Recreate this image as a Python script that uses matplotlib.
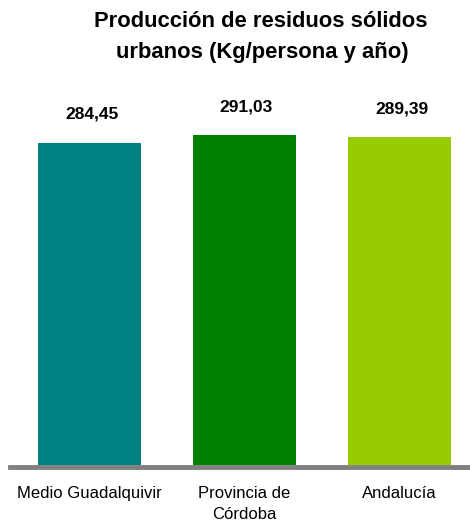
import matplotlib
matplotlib.use("Agg")
import matplotlib.pyplot as plt

categorias = ["Medio Guadalquivir", "Provincia de\nCórdoba", "Andalucía"]
valores = [284.45, 291.03, 289.39]
etiquetas = ["284,45", "291,03", "289,39"]
colores = ["#008080", "#008000", "#99CC00"]

plt.rcParams["font.family"] = ["Liberation Sans", "DejaVu Sans"]

fig = plt.figure(figsize=(4.7, 5.24), dpi=100)
ax = fig.add_axes([10 / 470, 59 / 524, 460 / 470, 405 / 524])

x = list(range(len(valores)))
bars = ax.bar(x, valores, width=0.67, color=colores, zorder=3)

for b, t in zip(bars, etiquetas):
    ax.annotate(t, (b.get_x() + b.get_width() / 2, b.get_height()),
                xytext=(2, 24), textcoords="offset pixels",
                ha="center", va="baseline", fontsize=12.5, fontweight="bold")

# category labels drawn as text so the line spacing sticks
for xi, c in zip(x, categorias):
    ax.annotate(c, (xi, 0), xycoords=ax.get_xaxis_transform(),
                xytext=(0, -21), textcoords="offset pixels",
                ha="center", va="top", fontsize=12, linespacing=1.5)

ax.set_xlim(-0.513, 2.455)
ax.set_ylim(0, 357.4)
ax.set_xticks([])
ax.set_yticks([])
for s in ["left", "right", "top"]:
    ax.spines[s].set_visible(False)
ax.spines["bottom"].set_color("#808080")
ax.spines["bottom"].set_linewidth(3.5)
ax.spines["bottom"].set_position(("outward", 1.5))

fig.text(261 / 470, 1 - 27 / 524, "Producción de residuos sólidos",
         ha="center", va="baseline", fontsize=15.8, fontweight="bold")
fig.text(262 / 470, 1 - 58 / 524, "urbanos (Kg/persona y año)",
         ha="center", va="baseline", fontsize=15.8, fontweight="bold")

fig.savefig("out.png", dpi=100)
